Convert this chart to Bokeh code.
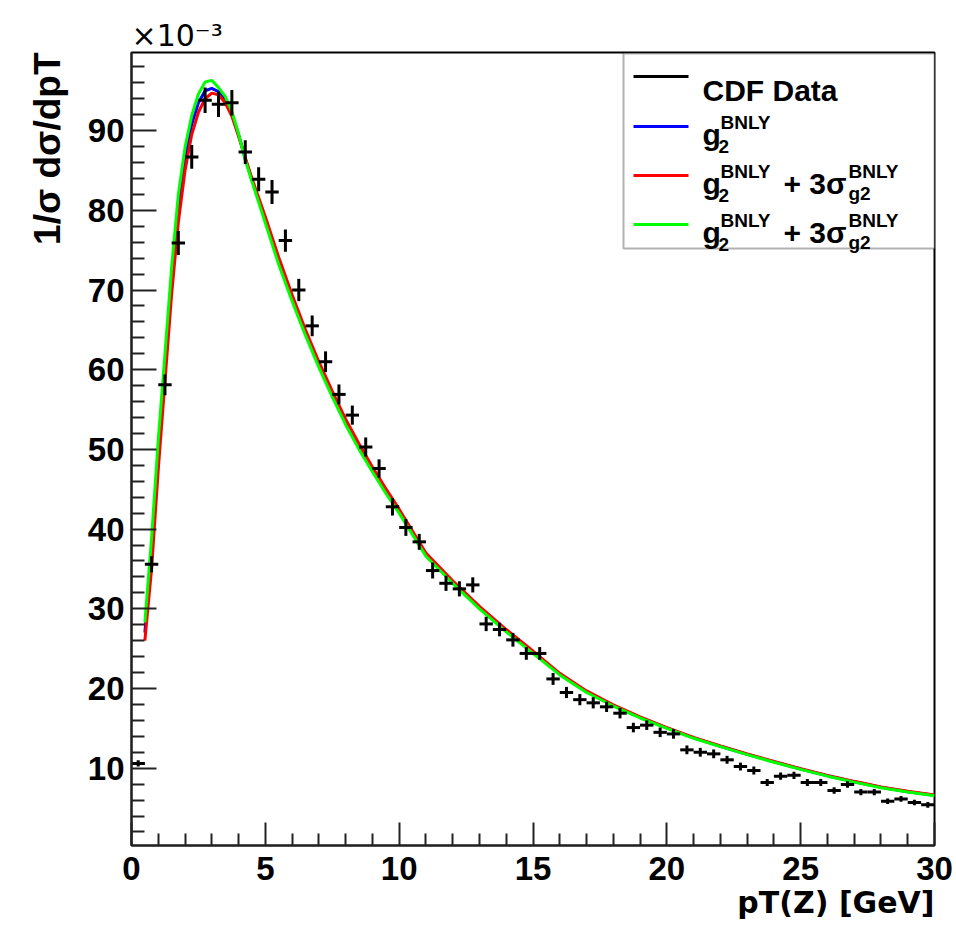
from bokeh.plotting import figure
from bokeh.models import Range1d, FixedTicker, Label, ColumnDataSource, BoxAnnotation, Title
from bokeh.embed import file_html
from bokeh.resources import INLINE

# ---------------- data (y in units of 1e-3) ----------------
cdf_pt = [0.25, 0.75, 1.25, 1.75, 2.25, 2.75, 3.25, 3.75, 4.25, 4.75,
          5.25, 5.75, 6.25, 6.75, 7.25, 7.75, 8.25, 8.75, 9.25, 9.75,
          10.25, 10.75, 11.25, 11.75, 12.25, 12.75, 13.25, 13.75, 14.25, 14.75,
          15.25, 15.75, 16.25, 16.75, 17.25, 17.75, 18.25, 18.75, 19.25, 19.75,
          20.25, 20.75, 21.25, 21.75, 22.25, 22.75, 23.25, 23.75, 24.25, 24.75,
          25.25, 25.75, 26.25, 26.75, 27.25, 27.75, 28.25, 28.75, 29.25, 29.75]
cdf_val = [10.6, 35.6, 58.1, 75.9, 86.7, 93.8, 93.3, 93.5, 87.3, 83.9,
           82.3, 76.2, 70.0, 65.5, 61.0, 56.9, 54.3, 50.3, 47.6, 42.8,
           40.2, 38.4, 34.8, 33.2, 32.5, 33.0, 28.1, 27.4, 26.1, 24.4,
           24.4, 21.2, 19.5, 18.6, 18.2, 17.7, 16.9, 15.1, 15.4, 14.5,
           14.3, 12.3, 12.0, 11.8, 11.05, 10.2, 9.7, 8.2, 9.0, 9.1,
           8.2, 8.2, 7.2, 7.95, 7.0, 7.0, 5.85, 6.15, 5.7, 5.4]
cdf_err = [0.4, 1.0, 1.3, 1.5, 1.5, 1.6, 1.6, 1.6, 1.5, 1.5,
           1.5, 1.4, 1.4, 1.3, 1.3, 1.25, 1.2, 1.2, 1.15, 1.1,
           1.05, 1.0, 1.0, 0.95, 0.95, 0.95, 0.9, 0.85, 0.85, 0.8,
           0.8, 0.75, 0.7, 0.7, 0.7, 0.65, 0.65, 0.6, 0.6, 0.6,
           0.6, 0.55, 0.55, 0.55, 0.5, 0.5, 0.5, 0.45, 0.45, 0.45,
           0.45, 0.45, 0.4, 0.4, 0.4, 0.4, 0.35, 0.35, 0.35, 0.35]
bin_half_width = 0.25

curve_pt = [0.5, 0.75, 1.0, 1.25, 1.5, 1.75, 2.0, 2.25, 2.5, 2.75, 3.0, 3.25, 3.5, 3.75, 4.0, 4.25, 4.5,
            5.0, 5.5, 6.0, 6.5, 7.0, 7.5, 8.0, 8.5, 9.0, 9.5,
            10, 11, 12, 13, 14, 15, 16, 17, 18, 19, 20, 21, 22, 23, 24, 25, 26, 27, 28, 29, 30]
g2_blue = [27.0, 37.0, 49.5, 60.3, 71.3, 80.4, 86.6, 90.8, 93.5, 95.0, 95.3, 94.9, 93.9, 92.1, 89.5, 86.5, 83.8,
           78.8, 73.7, 69.0, 64.7, 60.7, 57.0, 53.5, 50.4, 47.5, 44.8,
           42.2, 36.8, 33.3, 30.1, 27.25, 24.55, 21.8, 19.6, 17.87, 16.37, 15.05, 13.8, 12.75, 11.75, 10.8,
           9.9, 9.05, 8.3, 7.6, 7.05, 6.6]
g2_red = [26.0, 35.0, 47.5, 58.5, 69.5, 78.5, 85.0, 89.5, 92.3, 94.0, 94.7, 94.5, 93.5, 91.8, 89.3, 86.6, 84.0,
          79.2, 74.1, 69.4, 65.0, 61.0, 57.3, 53.8, 50.7, 47.8, 45.1,
          42.5, 37.0, 33.5, 30.3, 27.4, 24.7, 21.9, 19.7, 17.95, 16.45, 15.1, 13.85, 12.8, 11.8, 10.85,
          9.95, 9.1, 8.35, 7.65, 7.1, 6.65]
g2_green = [28.3, 38.9, 51.2, 62.0, 72.9, 82.0, 87.9, 91.9, 94.6, 96.1, 96.3, 95.4, 94.3, 92.4, 89.6, 86.3, 83.6,
            78.4, 73.2, 68.6, 64.3, 60.3, 56.6, 53.1, 50.0, 47.2, 44.5,
            42.0, 36.6, 33.2, 30.0, 27.1, 24.4, 21.7, 19.5, 17.8, 16.3, 15.0, 13.75, 12.7, 11.7, 10.75,
            9.85, 9.0, 8.25, 7.55, 7.0, 6.55]

x_major = [0, 5, 10, 15, 20, 25, 30]
x_minor = [1, 2, 3, 4, 6, 7, 8, 9, 11, 12, 13, 14, 16, 17, 18, 19, 21, 22, 23, 24, 26, 27, 28, 29]
y_major = [10, 20, 30, 40, 50, 60, 70, 80, 90]
y_minor = [2, 4, 6, 8, 12, 14, 16, 18, 22, 24, 26, 28, 32, 34, 36, 38, 42, 44, 46, 48, 52, 54, 56, 58,
           62, 64, 66, 68, 72, 74, 76, 78, 82, 84, 86, 88, 92, 94, 96, 98]

# ---------------- layout ----------------
W, H = 956, 928
FL, FR, FT, FB = 131, 934, 52, 845
X0, X1 = 0.0, 30.0
Y0, Y1 = 0.3, 99.8
FONT = "Liberation Sans"
WIDE = "DejaVu Sans"

p = figure(width=W, height=H, x_range=Range1d(X0, X1), y_range=Range1d(Y0, Y1),
           output_backend="svg", toolbar_location=None,
           min_border_left=FL, min_border_right=W - FR, min_border_top=FT, min_border_bottom=H - FB,
           title="×10⁻³")
p.background_fill_color = "white"
p.border_fill_color = "white"
p.outline_line_color = "black"
p.outline_line_width = 2
p.xgrid.visible = False
p.ygrid.visible = False

p.title.text_font = WIDE
p.title.text_font_style = "normal"
p.title.text_font_size = "30px"
p.title.text_color = "black"
p.title.align = "left"
p.title.offset = 0
p.title.standoff = 0

for ax, maj, mnr, mlen, nlen in ((p.xaxis[0], x_major, x_minor, 23, 12),
                                 (p.yaxis[0], y_major, y_minor, 25, 13)):
    ax.ticker = FixedTicker(ticks=maj, minor_ticks=mnr)
    ax.major_tick_in = mlen
    ax.major_tick_out = 0
    ax.minor_tick_in = nlen
    ax.minor_tick_out = 0
    ax.axis_line_color = "#222222"
    ax.axis_line_width = 2
    ax.major_tick_line_color = "#222222"
    ax.major_tick_line_width = 2
    ax.minor_tick_line_color = "#222222"
    ax.minor_tick_line_width = 2
    ax.major_label_text_font = FONT
    ax.major_label_text_font_style = "bold"
    ax.major_label_text_font_size = "33px"
    ax.major_label_text_color = "black"
p.xaxis.major_label_standoff = 11
p.yaxis.major_label_standoff = 7

# axis titles, right/top aligned as in ROOT
p.add_layout(Title(text="pT(Z) [GeV]", align="right", text_font=WIDE, text_font_style="bold",
                   text_font_size="30px", text_color="black", standoff=0, offset=0), "below")
p.add_layout(Title(text="1/σ dσ/dpT", align="right", text_font=FONT, text_font_style="bold",
                   text_font_size="37px", text_color="black", standoff=33, offset=0), "left")

# ---------------- theory curves ----------------
p.line(curve_pt, g2_blue, line_color="#0000ff", line_width=3)
p.line(curve_pt, g2_red, line_color="#ff0000", line_width=3)
p.line(curve_pt, g2_green, line_color="#00ff00", line_width=3)

# ---------------- CDF data with error bars ----------------
src = ColumnDataSource(dict(
    x=cdf_pt, y=cdf_val,
    xl=[v - bin_half_width for v in cdf_pt], xr=[v + bin_half_width for v in cdf_pt],
    yl=[v - e for v, e in zip(cdf_val, cdf_err)], yh=[v + e for v, e in zip(cdf_val, cdf_err)]))
p.segment(x0="xl", x1="xr", y0="y", y1="y", source=src, line_color="black", line_width=3)
p.segment(x0="x", x1="x", y0="yl", y1="yh", source=src, line_color="black", line_width=3)

# ---------------- legend (frame-relative screen pixels) ----------------
def fx(px):
    return px - FL


def fy(py):
    return FB - py


p.add_layout(BoxAnnotation(left=fx(623), right=fx(934), top=fy(53), bottom=fy(248),
                           left_units="screen", right_units="screen", top_units="screen", bottom_units="screen",
                           fill_color="white", fill_alpha=1.0, line_color="black", line_width=2,
                           level="underlay"))
leg_rows = [76, 126, 175, 224]
leg_colors = ["black", "#0000ff", "#ff0000", "#00ff00"]
for r, c in zip(leg_rows, leg_colors):
    p.add_layout(BoxAnnotation(left=fx(633), right=fx(688), top=fy(r) + 1.5, bottom=fy(r) - 1.5,
                               left_units="screen", right_units="screen", top_units="screen",
                               bottom_units="screen", fill_color=c, fill_alpha=1.0, line_alpha=0.0,
                               level="overlay"))


def txt(text, px, py, size, bold=True, align="left"):
    p.add_layout(Label(x=fx(px), y=fy(py), x_units="screen", y_units="screen", text=text, text_font=FONT,
                       text_font_style="bold" if bold else "normal",
                       text_font_size=f"{size}px", text_color="black", level="overlay",
                       text_align=align, text_baseline="alphabetic"))


txt("CDF Data", 702, 90, 30)
for i, r in enumerate(leg_rows[1:]):
    txt("g", 702, r + 8, 30)
    txt("BNLY", 720, r - 4, 19)
    txt("2", 718, r + 20, 19)
    if i > 0:
        txt("+ 3σ", 783, r + 8, 30)
        txt("BNLY", 848, r - 4, 19)
        txt("g2", 848, r + 18, 19)

open("out.html", "w").write(file_html(p, INLINE))
